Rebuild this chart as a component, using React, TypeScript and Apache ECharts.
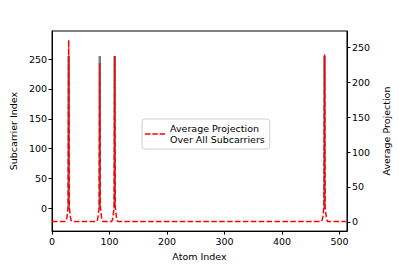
import React, { useEffect, useRef } from "react";
import * as echarts from "echarts";

// ---- data ----
const xTickValues = [0, 100, 200, 300, 400, 500];
const leftTickValues = [0, 50, 100, 150, 200, 250];
const rightTickValues = [0, 50, 100, 150, 200, 250];

// atoms where the grey (subcarrier) lines sit, spanning subcarrier 0..255
const activeAtoms = [29, 83, 109, 474];
const subcarrierSpan = [0, 255];

// red dashed "Average Projection" curve: explicit points
const avgProjAtoms = [
  0,
  23, 24, 25, 26, 27, 28, 29, 30, 31, 32, 33, 34, 35,
  77, 78, 79, 80, 81, 82, 83, 84, 85, 86, 87, 88, 89,
  103, 104, 105, 106, 107, 108, 109, 110, 111, 112, 113, 114, 115,
  468, 469, 470, 471, 472, 473, 474, 475, 476, 477, 478, 479, 480,
  511,
];
const avgProjValues = [
  0.3,
  0.3, 1, 3, 7, 14, 22, 261, 22, 14, 7, 3, 1, 0.3,
  0.3, 1, 3, 7, 14, 22, 228, 22, 14, 7, 3, 1, 0.3,
  0.3, 1, 3, 7, 14, 22, 238, 22, 14, 7, 3, 1, 0.3,
  0.3, 1, 3, 7, 14, 22, 240, 22, 14, 7, 3, 1, 0.3,
  0.3,
];

const FONT = "DejaVu Sans";
const FS = 9.5;
const LEGEND_NAME = "Average Projection\nOver All Subcarriers";

export default function App() {
  const ref = useRef<HTMLDivElement>(null);

  useEffect(() => {
    if (!ref.current) return;
    const chart = echarts.init(ref.current, undefined, { renderer: "svg" });

    const redData = avgProjAtoms.map((a, i) => [a, avgProjValues[i]]);
    const greySeries = activeAtoms.map((a) => ({
      type: "line",
      yAxisIndex: 0,
      data: [
        [a, subcarrierSpan[0]],
        [a, subcarrierSpan[1]],
      ],
      symbol: "none",
      silent: true,
      lineStyle: { color: "#7f7f7f", width: 2.5 },
      z: 1,
    }));

    const axisLineStyle = { show: true, onZero: false, lineStyle: { color: "#000", width: 1 } };
    const tickStyle = { show: true, inside: false, length: 3.5, lineStyle: { color: "#000", width: 1 } };
    const labelStyle = { fontFamily: FONT, fontSize: FS, color: "#000", margin: 5 };
    const nameStyle = { fontFamily: FONT, fontSize: FS, color: "#000" };

    chart.setOption({
      animation: false,
      backgroundColor: "#fff",
      textStyle: { fontFamily: FONT },
      grid: {
        left: 50,
        right: 39,
        top: 31,
        bottom: 34,
        show: true,
        borderColor: "#000",
        borderWidth: 1,
        backgroundColor: "transparent",
      },
      legend: {
        show: true,
        left: 142,
        top: 119,
        orient: "vertical",
        padding: [4, 5, 4, 3],
        itemWidth: 20,
        itemHeight: 1.5,
        itemGap: 0,
        borderColor: "#d0d0d0",
        borderWidth: 1,
        borderRadius: 3,
        backgroundColor: "rgba(255,255,255,0.8)",
        textStyle: { fontFamily: FONT, fontSize: FS, color: "#000", lineHeight: 11 },
        data: [
          {
            name: LEGEND_NAME,
            icon: "path://M0,0h5.5v1.5h-5.5z M7.3,0h5.5v1.5h-5.5z M14.5,0h5.5v1.5h-5.5z",
          },
        ],
      },
      xAxis: {
        type: "value",
        min: 0,
        max: 513,
        name: "Atom Index",
        nameLocation: "middle",
        nameGap: 19,
        nameTextStyle: nameStyle,
        axisLine: axisLineStyle,
        axisTick: { ...tickStyle, customValues: xTickValues },
        axisLabel: { ...labelStyle, customValues: xTickValues },
        splitLine: { show: false },
      },
      yAxis: [
        {
          type: "value",
          position: "left",
          min: -37.8,
          max: 297,
          name: "Subcarrier Index",
          nameLocation: "middle",
          nameGap: 29,
          nameTextStyle: nameStyle,
          axisLine: axisLineStyle,
          axisTick: { ...tickStyle, customValues: leftTickValues },
          axisLabel: { ...labelStyle, customValues: leftTickValues },
          splitLine: { show: false },
        },
        {
          type: "value",
          position: "right",
          min: -13.3,
          max: 273.9,
          name: "Average Projection",
          nameLocation: "middle",
          nameGap: 28,
          nameTextStyle: nameStyle,
          axisLine: axisLineStyle,
          axisTick: { ...tickStyle, customValues: rightTickValues },
          axisLabel: { ...labelStyle, customValues: rightTickValues },
          splitLine: { show: false },
        },
      ],
      series: [
        ...greySeries,
        {
          name: LEGEND_NAME,
          type: "line",
          yAxisIndex: 1,
          data: redData,
          symbol: "none",
          lineStyle: { color: "#ff0000", width: 1.5, type: [5.5, 2.4] },
          itemStyle: { color: "#ff0000" },
          z: 2,
        },
      ],
    });

    return () => chart.dispose();
  }, []);

  return (
    <div
      ref={ref}
      style={{ position: "fixed", left: 0, top: 0, width: 399, height: 266 }}
    />
  );
}
